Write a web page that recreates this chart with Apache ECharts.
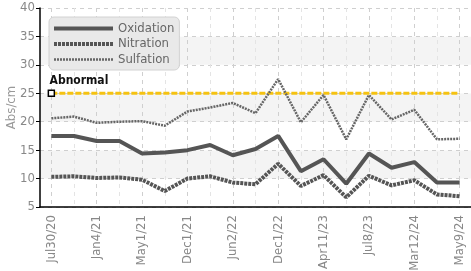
<!DOCTYPE html>
<html>
<head>
<meta charset="utf-8">
<script src="https://cdn.jsdelivr.net/npm/echarts@6/dist/echarts.min.js"></script>
<style>
  html, body { margin: 0; padding: 0; background: #fff; }
  #chart { width: 471px; height: 271px; }
</style>
</head>
<body>
<div id="chart"></div>
<script>
var dates = ['Jul30/20', '', 'Jan4/21', '', 'May1/21', '', 'Dec1/21', '', 'Jun2/22', '',
             'Dec1/22', '', 'Apr11/23', '', 'Jul8/23', '', 'Mar12/24', '', 'May9/24'];
var oxidation = [17.5, 17.5, 16.6, 16.6, 14.4, 14.6, 15.0, 15.9, 14.1, 15.2,
                 17.5, 11.3, 13.4, 9.1, 14.4, 11.9, 12.9, 9.3, 9.3];
var nitration = [10.3, 10.4, 10.1, 10.2, 9.8, 7.8, 10.0, 10.4, 9.3, 9.0,
                 12.6, 8.7, 10.6, 6.7, 10.5, 8.8, 9.7, 7.2, 6.9];
var sulfation = [20.6, 20.9, 19.8, 20.0, 20.1, 19.3, 21.8, 22.5, 23.3, 21.5,
                 27.5, 19.9, 24.7, 16.9, 24.7, 20.4, 22.1, 16.9, 17.0];
var abnormal = 25;

var font = "'DejaVu Sans Condensed', 'Liberation Sans Narrow', 'DejaVu Sans', sans-serif";

var limitData = dates.map(function (d, i) {
    if (i === 0) {
        return {
            value: abnormal,
            symbol: 'rect',
            symbolSize: 6,
            itemStyle: { color: '#fff', borderColor: '#000', borderWidth: 1.5 },
            label: {
                show: true, position: [2, -15], formatter: 'Abnormal',
                fontFamily: font, fontWeight: 'bold', fontSize: 12, color: '#111'
            }
        };
    }
    return abnormal;
});

var chart = echarts.init(document.getElementById('chart'));
chart.setOption({
    animation: false,
    grid: { left: 40, right: 0, top: 8, bottom: 64, outerBoundsMode: 'none' },
    legend: {
        orient: 'vertical',
        left: 49,
        top: 17,
        padding: [5, 5, 4, 3],
        itemGap: 2.5,
        itemWidth: 59,
        itemHeight: 14,
        backgroundColor: '#e9e9e9',
        borderColor: '#d2d2d2',
        borderWidth: 1,
        borderRadius: 5,
        itemStyle: { opacity: 0 },
        lineStyle: { width: 'inherit' },
        textStyle: { fontFamily: font, fontSize: 13, color: '#666' },
        data: ['Oxidation', 'Nitration', 'Sulfation']
    },
    xAxis: {
        type: 'category',
        data: dates,
        boundaryGap: true,
        axisLine: { lineStyle: { color: '#000', width: 1.5 } },
        axisTick: { interval: 1, alignWithLabel: true, length: 4, lineStyle: { color: '#000' } },
        axisLabel: {
            interval: 0, rotate: 90, margin: 8,
            fontFamily: font, fontSize: 13, color: '#888'
        },
        splitLine: {
            show: true, interval: 0, alignWithLabel: true,
            lineStyle: { type: [4, 4], color: ['#cfcfcf', '#e4e4e4'] }
        }
    },
    yAxis: {
        type: 'value',
        min: 5,
        max: 40,
        interval: 5,
        name: 'Abs/cm',
        nameLocation: 'middle',
        nameGap: 22,
        nameMoveOverlap: false,
        nameTextStyle: { fontFamily: font, fontSize: 13, color: '#999' },
        axisLine: { show: true, lineStyle: { color: '#000', width: 1.5 } },
        axisTick: { show: true, length: 4, lineStyle: { color: '#000' } },
        axisLabel: { fontFamily: font, fontSize: 13, color: '#888', margin: 5 },
        splitLine: { lineStyle: { type: [4, 4], color: '#cfcfcf' } },
        splitArea: { show: true, areaStyle: { color: ['#ffffff', '#f4f4f4'] } }
    },
    series: [
        {
            name: 'Abnormal',
            type: 'line',
            data: limitData,
            symbol: 'none',
            lineStyle: { color: '#f5c211', width: 3, type: [6, 2] },
            itemStyle: { color: '#f5c211' },
            z: 1
        },
        {
            name: 'Oxidation',
            type: 'line',
            data: oxidation,
            symbol: 'none',
            lineStyle: { color: '#555', width: 4 },
            itemStyle: { color: '#555' },
            z: 3
        },
        {
            name: 'Nitration',
            type: 'line',
            data: nitration,
            symbol: 'none',
            lineStyle: { color: '#555', width: 4, type: [3, 1] },
            itemStyle: { color: '#555' },
            z: 3
        },
        {
            name: 'Sulfation',
            type: 'line',
            data: sulfation,
            symbol: 'none',
            lineStyle: { color: '#666', width: 2.5, type: [2, 1] },
            itemStyle: { color: '#666' },
            z: 3
        }
    ]
});
</script>
</body>
</html>
